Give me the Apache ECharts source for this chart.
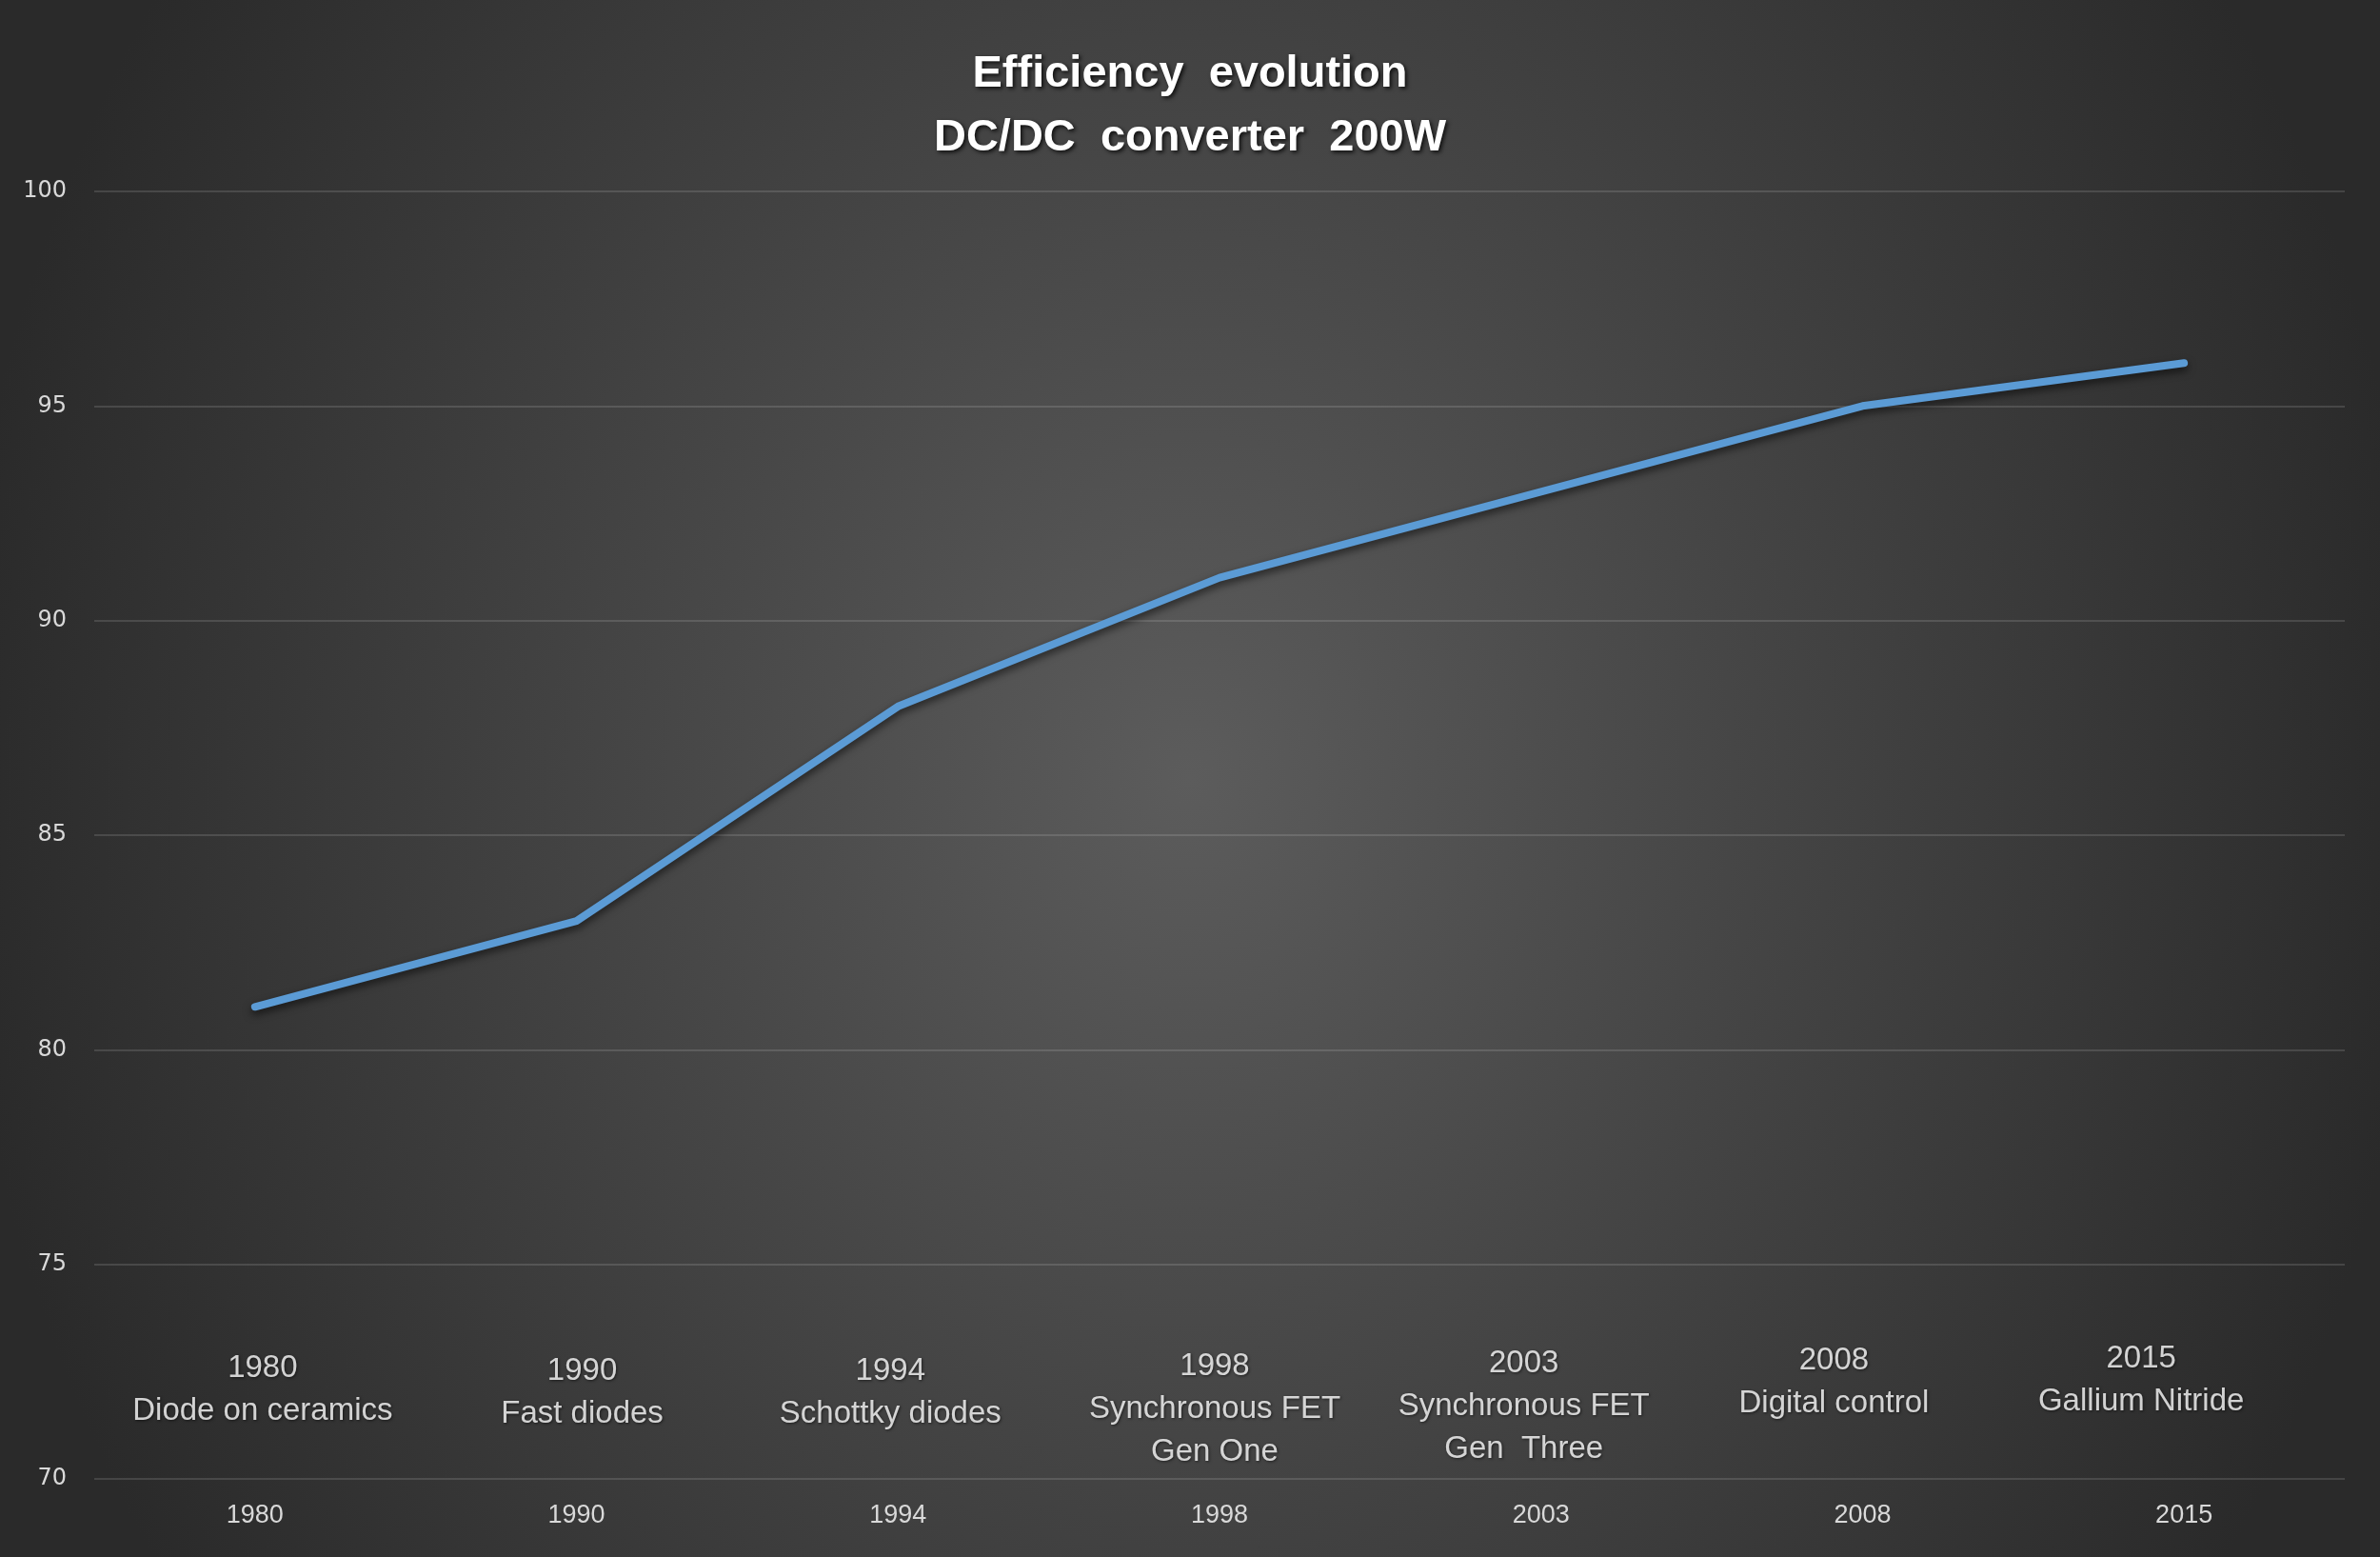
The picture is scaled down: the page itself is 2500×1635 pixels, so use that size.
<!DOCTYPE html>
<html>
<head>
<meta charset="utf-8">
<script src="https://cdn.jsdelivr.net/npm/echarts@6/dist/echarts.min.js"></script>
<style>
  html, body { margin: 0; padding: 0; }
  body { background: #2a2a2a; }
  #chart {
    width: 2500px; height: 1635px;
    background: radial-gradient(1300px 1500px at 50% 50%, #5c5c5c 0%, #2a2a2a 100%);
  }
</style>
</head>
<body>
<div id="chart"></div>
<script>
// ---- data ----
const years = ['1980', '1990', '1994', '1998', '2003', '2008', '2015'];
const efficiency = [81, 83, 88, 91, 93, 95, 96];
const milestones = [
  'Diode on ceramics',
  'Fast diodes',
  'Schottky diodes',
  'Synchronous FET\nGen One',
  'Synchronous FET\nGen  Three',
  'Digital control',
  'Gallium Nitride'
];
const yTicks = [70, 75, 80, 85, 90, 95, 100];

// ---- chart ----
const chart = echarts.init(document.getElementById('chart'), null, { renderer: 'canvas' });

const annoLevel = 73.08;
const labelNudge = [[8, 0], [6, 3], [-8, 3], [-5, -2], [-18, -5], [-30, -8], [-45, -10]];

const annoData = years.map((y, i) => ({
  value: [i, annoLevel],
  label: { offset: labelNudge[i] }
}));

const option = {
  backgroundColor: 'transparent',
  animation: false,
  title: {
    text: 'Efficiency  evolution\nDC/DC  converter  200W',
    left: 'center',
    top: 40,
    textStyle: {
      color: '#ffffff',
      fontFamily: 'Liberation Sans',
      fontWeight: 'bold',
      fontSize: 47,
      lineHeight: 67,
      textShadowColor: 'rgba(0,0,0,0.8)',
      textShadowBlur: 4,
      textShadowOffsetX: 2,
      textShadowOffsetY: 2
    }
  },
  grid: { left: 99, right: 37, top: 201, bottom: 82, containLabel: false },
  xAxis: {
    type: 'category',
    data: years,
    boundaryGap: true,
    axisLine: { show: false },
    axisTick: { show: false },
    axisLabel: {
      color: '#d9d9d9',
      fontFamily: 'Liberation Sans',
      fontSize: 27,
      margin: 25
    }
  },
  yAxis: {
    type: 'value',
    min: yTicks[0],
    max: yTicks[yTicks.length - 1],
    interval: 5,
    axisLine: { show: false },
    axisTick: { show: false },
    axisLabel: {
      color: '#d9d9d9',
      fontFamily: 'DejaVu Sans',
      fontSize: 24,
      margin: 29
    },
    splitLine: { lineStyle: { color: 'rgba(255,255,255,0.13)', width: 2 } }
  },
  series: [
    {
      name: 'Efficiency',
      type: 'line',
      data: efficiency,
      showSymbol: false,
      symbol: 'none',
      lineStyle: {
        color: '#5b9bd5',
        width: 8,
        cap: 'round',
        join: 'round',
        shadowColor: 'rgba(0,0,0,0.6)',
        shadowBlur: 8,
        shadowOffsetY: 4
      },
      z: 3
    },
    {
      name: 'Milestones',
      type: 'scatter',
      data: annoData,
      symbolSize: 0,
      silent: true,
      label: {
        show: true,
        position: 'bottom',
        distance: 0,
        align: 'center',
        formatter: (p) => years[p.dataIndex] + '\n' + milestones[p.dataIndex],
        color: '#ffffff',
        fontFamily: 'Liberation Sans',
        fontSize: 33,
        lineHeight: 45,
        textShadowColor: 'rgba(0,0,0,0.7)',
        textShadowBlur: 3,
        textShadowOffsetX: 1,
        textShadowOffsetY: 1
      },
      z: 4
    }
  ]
};

chart.setOption(option);
</script>
</body>
</html>
